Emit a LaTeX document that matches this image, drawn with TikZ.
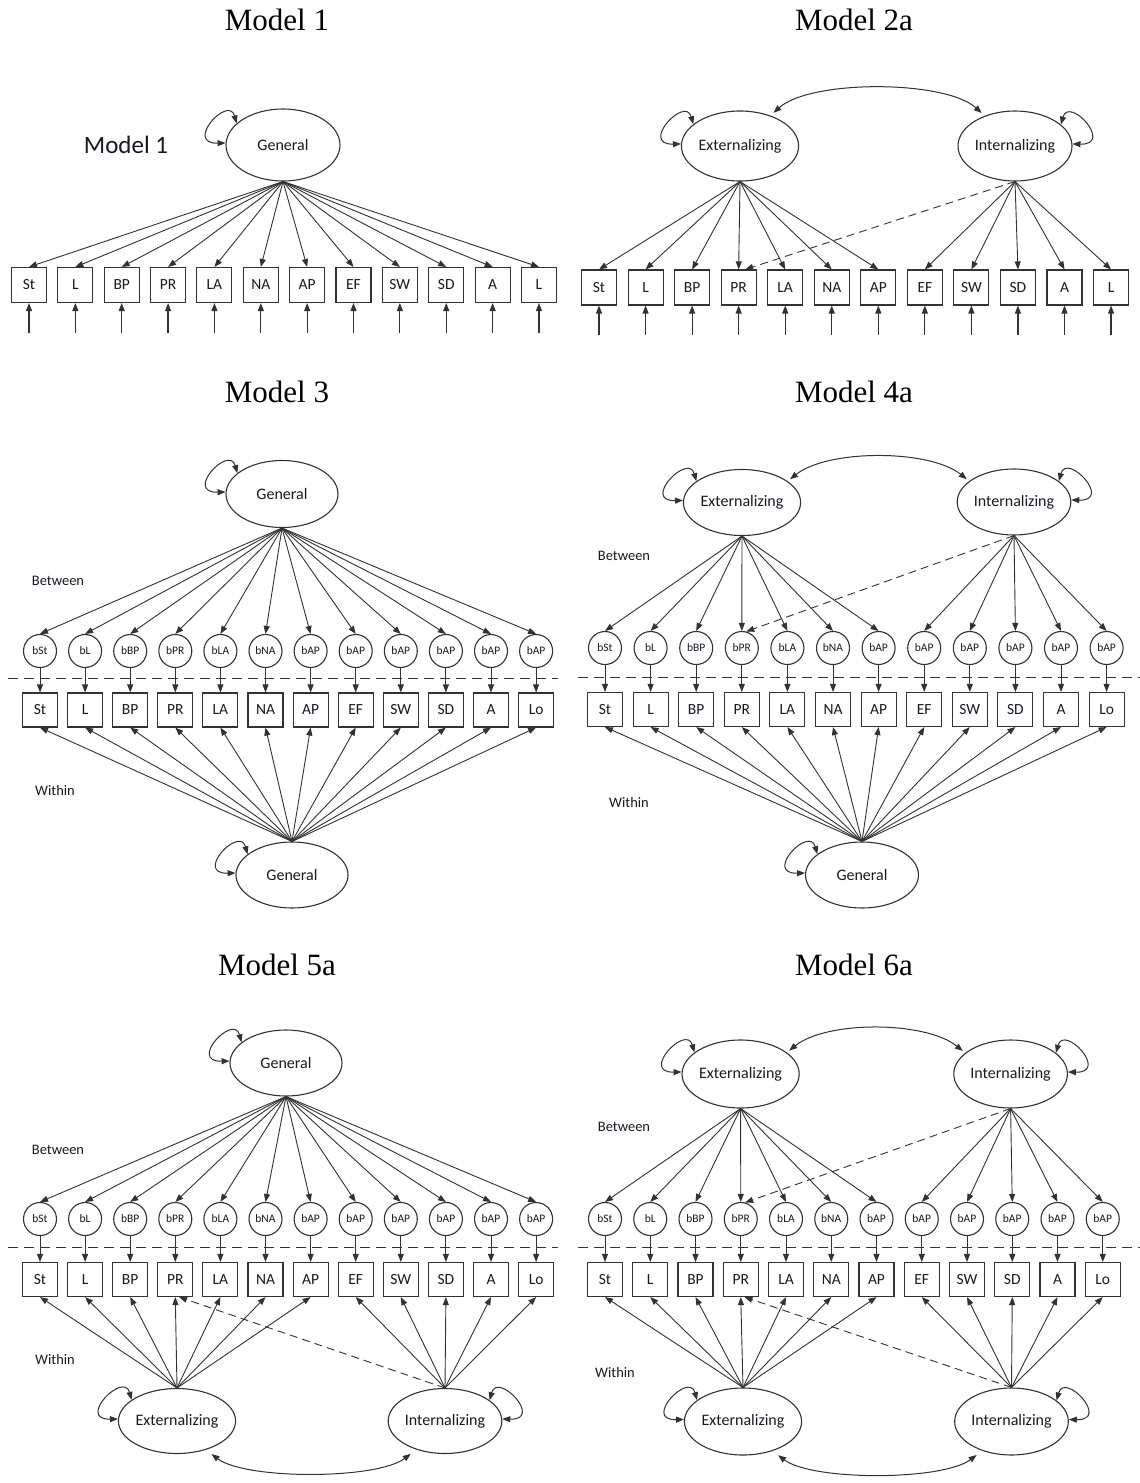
\documentclass[tikz,border=0pt]{standalone}
\usepackage{fontspec}
\setmainfont{Liberation Serif}
\newfontfamily\calib{Carlito}
\usetikzlibrary{arrows.meta,shapes.geometric}
\definecolor{lc}{RGB}{50,50,50}
\definecolor{tc}{RGB}{25,25,35}
\newcommand\leftloop[1]{\draw[dbl] (#1.155) .. controls +(-8,-29) and +(-42,1) .. (#1.178);}
\newcommand\rightloop[1]{\draw[dbl] (#1.25) .. controls +(8,-29) and +(42,1) .. (#1.2);}
\begin{document}
\begin{tikzpicture}[x=1pt,y=-1pt,
  >={Triangle[length=8pt,width=6pt]},
  lat/.style={ellipse,draw=lc,line width=1.1pt,minimum width=112pt,minimum height=67pt,inner sep=0pt,text=tc,font=\calib\fontsize{16}{18}\selectfont},
  obs/.style={rectangle,draw=lc,line width=1.1pt,minimum width=35pt,minimum height=34pt,inner sep=0pt,text=tc,font=\calib\fontsize{15.5}{17}\selectfont},
  bc/.style={circle,draw=lc,line width=1.1pt,minimum size=33pt,inner sep=0pt,text=tc,font=\calib\fontsize{11.5}{12}\selectfont},
  arr/.style={->,draw=lc,line width=0.9pt},
  darr/.style={->,draw=lc,line width=0.9pt,dash pattern=on 8pt off 5pt},
  dbl/.style={<->,draw=lc,line width=1pt},
  sepl/.style={draw=lc,line width=1pt,dash pattern=on 10pt off 6pt},
  lbl/.style={text=tc,font=\calib\fontsize{14.5}{16}\selectfont},
  ttl/.style={text=black,font=\fontsize{31}{34}\selectfont}]
\useasboundingbox[fill=white] (0,0) rectangle (1140,1483);

% ---------------- Model 1 ----------------
\node[ttl] (tA) at (277,20) {Model 1};
\node[lbl,font=\calib\fontsize{25}{28}\selectfont] (mA) at (126,145) {Model 1};
\node[lat,minimum width=114pt,minimum height=72pt] (AG) at (283,145) {General};
\leftloop{AG}
\foreach \lab [count=\i] in {St,L,BP,PR,LA,NA,AP,EF,SW,SD,A,L}{
  \node[obs,minimum height=35pt] (A\i) at ({29+46.36*(\i-1)},285) {\lab};
  \coordinate (Ae\i) at ({29+46.36*(\i-1)},333);
  \draw[arr] (AG.south) -- (A\i.north);
  \draw[arr,line width=1.2pt] (Ae\i) -- (A\i.south);
}

% ---------------- Model 2a ----------------
\node[ttl] (tB) at (854,20) {Model 2a};
\node[lat,minimum width=116pt,minimum height=70pt] (BXT) at (740,146) {Externalizing};
\node[lat,minimum width=114pt,minimum height=70pt] (BIT) at (1015,146) {Internalizing};
\leftloop{BXT}
\rightloop{BIT}
\draw[dbl,shorten <=4pt,shorten >=4pt] (BXT.45) .. controls +(40,-36) and +(-40,-36) .. (BIT.135);
\foreach \lab [count=\i] in {St,L,BP,PR,LA,NA,AP,EF,SW,SD,A,L}{
  \node[obs,minimum height=35pt] (B\i) at ({599+46.55*(\i-1)},287.5) {\lab};
  \coordinate (Be\i) at ({599+46.55*(\i-1)},335);
  \draw[arr,line width=1.2pt] (Be\i) -- (B\i.south);
}
\foreach \i in {1,...,7} {\draw[arr] (BXT.south) -- (B\i.north);}
\foreach \i in {8,...,12} {\draw[arr] (BIT.south) -- (B\i.north);}
\draw[darr] (BIT.south) -- (B4.70);

% ---------------- Model 3 ----------------
\node[ttl] (tC) at (277,392) {Model 3};
\node[lbl] (bwC) at (58,581) {Between};
\node[lbl] (wiC) at (55,791) {Within};
\node[lat] (CGT) at (282,494) {General};
\leftloop{CGT}
\node[lat,minimum height=66pt] (CGB) at (292,875) {General};
\leftloop{CGB}
\coordinate (Cs1) at (8,678);
\coordinate (Cs2) at (558,678);
\draw[sepl] (Cs1) -- (Cs2);
\foreach \bl/\lab [count=\i] in {bSt/St,bL/L,bBP/BP,bPR/PR,bLA/LA,bNA/NA,bAP/AP,bAP/EF,bAP/SW,bAP/SD,bAP/A,bAP/Lo}{
  \node[bc] (Cc\i) at ({40+45.1*(\i-1)},651) {\bl};
  \node[obs] (C\i) at ({40+45.1*(\i-1)},710) {\lab};
  \draw[arr] (CGT.south) -- (Cc\i.north);
  \draw[arr] (Cc\i.south) -- (C\i.north);
  \draw[arr] (CGB.north) -- (C\i.south);
}

% ---------------- Model 4a ----------------
\node[ttl] (tD) at (854,392) {Model 4a};
\node[lbl] (bwD) at (624,556) {Between};
\node[lbl] (wiD) at (629,803) {Within};
\node[lat,minimum height=66pt] (DXT) at (742,502.5) {Externalizing};
\node[lat,minimum height=66pt] (DIT) at (1014,502) {Internalizing};
\leftloop{DXT}
\rightloop{DIT}
\draw[dbl,shorten <=3pt,shorten >=3pt] (DXT.25) .. controls +(40,-32) and +(-40,-32) .. (DIT.155);
\node[lat,minimum width=113pt,minimum height=66pt] (DGB) at (862,875) {General};
\leftloop{DGB}
\coordinate (Ds1) at (578,677);
\coordinate (Ds2) at (1140,677);
\draw[sepl] (Ds1) -- (Ds2);
\foreach \bl/\lab [count=\i] in {bSt/St,bL/L,bBP/BP,bPR/PR,bLA/LA,bNA/NA,bAP/AP,bAP/EF,bAP/SW,bAP/SD,bAP/A,bAP/Lo}{
  \node[bc] (Dc\i) at ({605+45.6*(\i-1)},648) {\bl};
  \node[obs] (D\i) at ({605+45.6*(\i-1)},709.5) {\lab};
  \draw[arr] (Dc\i.south) -- (D\i.north);
  \draw[arr] (DGB.north) -- (D\i.south);
}
\foreach \i in {1,...,7} {\draw[arr] (DXT.south) -- (Dc\i.north);}
\foreach \i in {8,...,12} {\draw[arr] (DIT.south) -- (Dc\i.north);}
\draw[darr] (DIT.south) -- (Dc4.75);

% ---------------- Model 5a ----------------
\node[ttl] (tE) at (277,965) {Model 5a};
\node[lbl] (bwE) at (58,1150) {Between};
\node[lbl] (wiE) at (55,1360) {Within};
\node[lat,minimum height=66pt] (EGT) at (286,1063) {General};
\leftloop{EGT}
\coordinate (Es1) at (8,1247.5);
\coordinate (Es2) at (558,1247.5);
\draw[sepl] (Es1) -- (Es2);
\node[lat,minimum width=110pt,minimum height=65pt] (EXB) at (177,1421) {Externalizing};
\node[lat,minimum width=110pt,minimum height=65pt] (EIB) at (445,1421) {Internalizing};
\leftloop{EXB}
\rightloop{EIB}
\draw[dbl,shorten <=7pt,shorten >=7pt] (EXB.-45) .. controls +(40,30) and +(-40,30) .. (EIB.-135);
\foreach \bl/\lab [count=\i] in {bSt/St,bL/L,bBP/BP,bPR/PR,bLA/LA,bNA/NA,bAP/AP,bAP/EF,bAP/SW,bAP/SD,bAP/A,bAP/Lo}{
  \node[bc] (Ec\i) at ({40+45.1*(\i-1)},1219) {\bl};
  \node[obs] (E\i) at ({40+45.1*(\i-1)},1279.5) {\lab};
  \draw[arr] (EGT.south) -- (Ec\i.north);
  \draw[arr] (Ec\i.south) -- (E\i.north);
}
\foreach \i in {1,...,7} {\draw[arr] (EXB.north) -- (E\i.south);}
\foreach \i in {8,...,12} {\draw[arr] (EIB.north) -- (E\i.south);}
\draw[darr] (EIB.north) -- (E4.-78);

% ---------------- Model 6a ----------------
\node[ttl] (tF) at (854,965) {Model 6a};
\node[lbl] (bwF) at (624,1127) {Between};
\node[lbl] (wiF) at (615,1373) {Within};
\node[lat,minimum height=68pt] (FXT) at (740.6,1074) {Externalizing};
\node[lat,minimum height=68pt] (FIT) at (1010.6,1074) {Internalizing};
\leftloop{FXT}
\rightloop{FIT}
\draw[dbl,shorten <=3pt,shorten >=3pt] (FXT.25) .. controls +(40,-32) and +(-40,-32) .. (FIT.155);
\coordinate (Fs1) at (578,1247);
\coordinate (Fs2) at (1140,1247);
\draw[sepl] (Fs1) -- (Fs2);
\node[lat,minimum height=67pt] (FXB) at (743,1421.5) {Externalizing};
\node[lat,minimum height=67pt] (FIB) at (1011.5,1421.5) {Internalizing};
\leftloop{FXB}
\rightloop{FIB}
\draw[dbl,shorten <=7pt,shorten >=7pt] (FXB.-45) .. controls +(40,30) and +(-40,30) .. (FIB.-135);
\foreach \bl/\lab [count=\i] in {bSt/St,bL/L,bBP/BP,bPR/PR,bLA/LA,bNA/NA,bAP/AP,bAP/EF,bAP/SW,bAP/SD,bAP/A,bAP/Lo}{
  \node[bc] (Fc\i) at ({605+45.25*(\i-1)},1219) {\bl};
  \node[obs] (F\i) at ({605+45.25*(\i-1)},1279.5) {\lab};
  \draw[arr] (Fc\i.south) -- (F\i.north);
}
\foreach \i in {1,...,7} {\draw[arr] (FXT.south) -- (Fc\i.north); \draw[arr] (FXB.north) -- (F\i.south);}
\foreach \i in {8,...,12} {\draw[arr] (FIT.south) -- (Fc\i.north); \draw[arr] (FIB.north) -- (F\i.south);}
\draw[darr] (FIT.south) -- (Fc4.75);
\draw[darr] (FIB.north) -- (F4.-78);
\end{tikzpicture}
\end{document}
